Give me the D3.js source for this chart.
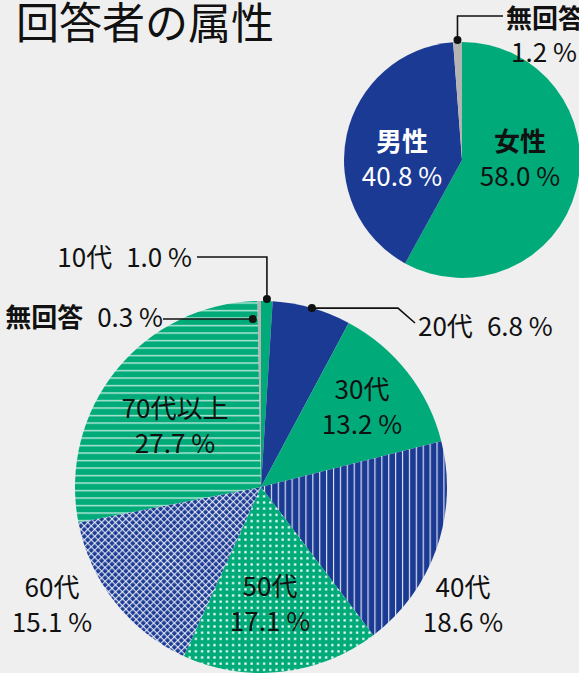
<!DOCTYPE html>
<html>
<head>
<meta charset="utf-8">
<script src="https://cdn.jsdelivr.net/npm/d3@7"></script>
<style>
    html, body { margin: 0; padding: 0; background: #efefef; }
    svg { display: block; font-family: "Noto Sans CJK JP", "Noto Sans", sans-serif; }
</style>
</head>
<body>
<div id="vis-container"></div>
<script>
// data
const ageLabels = ["10代", "20代", "30代", "40代", "50代", "60代", "70代以上", "無回答"]
const ageValues = [1.0, 6.8, 13.2, 18.6, 17.1, 15.1, 27.7, 0.3]
const ageFills = ["green", "blue", "green", "vlines", "dots", "cross", "hlines", "gray"]

const sexLabels = ["女性", "男性", "無回答"]
const sexValues = [58.0, 40.8, 1.2]
const sexFills = ["green", "blue", "gray"]

let width = 579;
let height = 673;

const GREEN = "#00ab79"
const BLUE = "#1b3a94"
const GRAY = "#b4b4b4"
const INK = "#111"
const FS = "26px"

let svg = d3.select("#vis-container").append("svg").attr("width", width).attr("height", height)

// patterns
let defs = svg.append("defs")

let pv = defs.append("pattern").attr("id", "vlines").attr("patternUnits", "userSpaceOnUse")
    .attr("width", 6.9).attr("height", 10)
pv.append("rect").attr("width", 6.9).attr("height", 10).attr("fill", BLUE)
pv.append("rect").attr("x", 3).attr("width", 1.1).attr("height", 10).attr("fill", "#fff").attr("opacity", 0.9)

let ph = defs.append("pattern").attr("id", "hlines").attr("patternUnits", "userSpaceOnUse")
    .attr("width", 10).attr("height", 7.5)
ph.append("rect").attr("width", 10).attr("height", 7.5).attr("fill", GREEN)
ph.append("rect").attr("y", 3).attr("width", 10).attr("height", 1.2).attr("fill", "#fff").attr("opacity", 0.85)

let pc = defs.append("pattern").attr("id", "cross").attr("patternUnits", "userSpaceOnUse")
    .attr("width", 4.9).attr("height", 4.9).attr("patternTransform", "rotate(45)")
pc.append("rect").attr("width", 4.9).attr("height", 4.9).attr("fill", BLUE)
pc.append("rect").attr("width", 1.2).attr("height", 4.9).attr("fill", "#fff").attr("opacity", 0.8)
pc.append("rect").attr("width", 4.9).attr("height", 1.2).attr("fill", "#fff").attr("opacity", 0.8)

let pd = defs.append("pattern").attr("id", "dots").attr("patternUnits", "userSpaceOnUse")
    .attr("width", 6.2).attr("height", 6.2)
pd.append("rect").attr("width", 6.2).attr("height", 6.2).attr("fill", GREEN)
pd.append("rect").attr("x", 2).attr("y", 2).attr("width", 2.2).attr("height", 2.2).attr("fill", "#fff")

const fillOf = function (k) {
    if (k === "green") return GREEN
    if (k === "blue") return BLUE
    if (k === "gray") return GRAY
    return "url(#" + k + ")"
}

const pie = d3.pie().sort(null).value(d => d.value)

// title
svg.append("text").attr("x", 16).attr("y", 39)
    .style("font-size", "43px").attr("fill", INK)
    .text("回答者の属性")

// small pie (sex)
let sc = { x: 462, y: 160, r: 118 }
let sexData = pie(sexLabels.map((l, i) => ({ label: l, value: sexValues[i], fill: sexFills[i] })))
let arcS = d3.arc().innerRadius(0).outerRadius(sc.r)
let gS = svg.append("g").attr("transform", "translate(" + sc.x + "," + sc.y + ")")
gS.selectAll("path").data(sexData).enter().append("path")
    .attr("d", arcS)
    .attr("fill", d => fillOf(d.data.fill))

// big pie (age)
let bc = { x: 261, y: 487, r: 186 }
let ageData = pie(ageLabels.map((l, i) => ({ label: l, value: ageValues[i], fill: ageFills[i] })))
let arcB = d3.arc().innerRadius(0).outerRadius(bc.r)
let gB = svg.append("g").attr("transform", "translate(" + bc.x + "," + bc.y + ")")
gB.selectAll("path").data(ageData).enter().append("path")
    .attr("d", arcB)
    .attr("fill", d => fillOf(d.data.fill))

// point on a circle at angle (0 = top, clockwise)
const polar = function (c, a, r) {
    return [c.x + r * Math.sin(a), c.y - r * Math.cos(a)]
}
const mid = d => (d.startAngle + d.endAngle) / 2

// inner two-line labels
const inner = [
    { d: sexData[0], x: 520, y: 151, color: INK, bold: true },
    { d: sexData[1], x: 402, y: 151, color: "#fff", bold: true },
    { d: ageData[2], x: 362, y: 399, color: INK },
    { d: ageData[3], x: 463, y: 597, color: INK },
    { d: ageData[4], x: 270, y: 596, color: INK },
    { d: ageData[5], x: 52, y: 597, color: INK },
    { d: ageData[6], x: 175, y: 418, color: INK }
]
inner.forEach(function (o) {
    let t = svg.append("text").attr("text-anchor", "middle").attr("fill", o.color).style("font-size", FS)
    t.append("tspan").attr("x", o.x).attr("y", o.y)
        .style("font-weight", o.bold ? "bold" : "normal").text(o.d.data.label)
    t.append("tspan").attr("x", o.x).attr("y", o.y + 35).text(o.d.data.value.toFixed(1) + " %")
})

// leader lines with dots
const line = d3.line()
const leader = function (pts) {
    svg.append("path").attr("d", line(pts)).attr("fill", "none")
        .attr("stroke", INK).attr("stroke-width", 1.6)
    let p = pts[pts.length - 1]
    svg.append("circle").attr("cx", p[0]).attr("cy", p[1]).attr("r", 4).attr("fill", INK)
}

// sex: no answer
let dS = polar(sc, mid(sexData[2]) - 2 * Math.PI, sc.r + 2)
leader([[503, 16], [dS[0], 16], dS])
let t1 = svg.append("text").attr("fill", INK).style("font-size", FS)
t1.append("tspan").attr("x", 506).attr("y", 28).style("font-weight", "bold").text(sexLabels[2])
t1.append("tspan").attr("x", 511).attr("y", 62).text(sexValues[2].toFixed(1) + " %")

// age 10s
let d10 = polar(bc, mid(ageData[0]), bc.r + 2)
leader([[197, 257], [d10[0], 257], d10])
let t2 = svg.append("text").attr("fill", INK).style("font-size", FS).attr("text-anchor", "end")
    .attr("x", 192).attr("y", 267)
t2.append("tspan").text(ageLabels[0])
t2.append("tspan").attr("dx", 14).text(ageValues[0].toFixed(1) + " %")

// age no answer
let dN = polar(bc, ageData[7].startAngle, bc.r - 18)
dN[0] -= 5
leader([[163, dN[1]], dN])
let t3 = svg.append("text").attr("fill", INK).style("font-size", FS).attr("text-anchor", "end")
    .attr("x", 163).attr("y", 327)
t3.append("tspan").style("font-weight", "bold").text(ageLabels[7])
t3.append("tspan").attr("dx", 14).text(ageValues[7].toFixed(1) + " %")

// age 20s
let d20 = polar(bc, mid(ageData[1]), bc.r)
leader([[415, 323], [398, d20[1]], d20])
let t4 = svg.append("text").attr("fill", INK).style("font-size", FS)
    .attr("x", 418).attr("y", 336)
t4.append("tspan").text(ageLabels[1])
t4.append("tspan").attr("dx", 14).text(ageValues[1].toFixed(1) + " %")
</script>
</body>
</html>
